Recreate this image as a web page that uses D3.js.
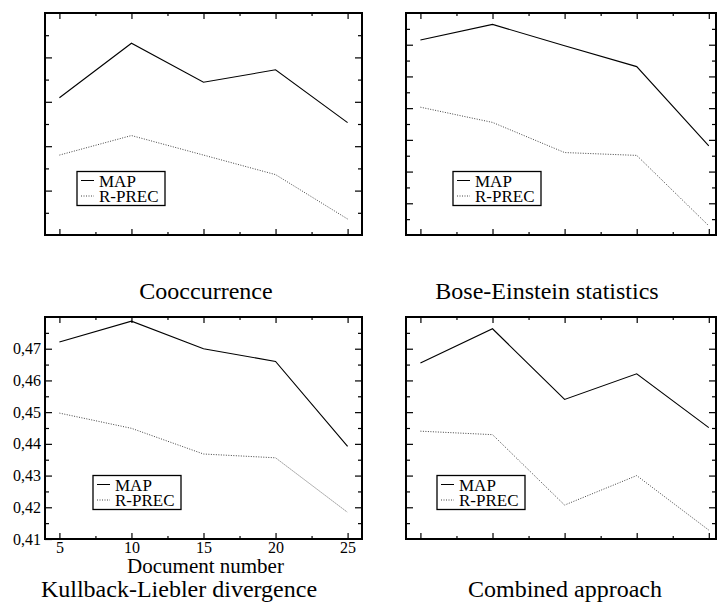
<!DOCTYPE html>
<html>
<head>
<meta charset="utf-8">
<script src="https://cdn.jsdelivr.net/npm/d3@7"></script>
<style>
  body { margin: 0; background: #fff; }
  svg { display: block; }
  text { font-family: "Liberation Serif", "Times New Roman", serif; fill: #000; }
</style>
</head>
<body>
<svg id="chart" width="717" height="607"></svg>
<script>
// document numbers on the x axis
const docNumbers = [5, 10, 15, 20, 25];
const seriesNames = ['MAP', 'R-PREC'];

// values, one pair of series per panel
const coocMap   = [0.4509, 0.4632, 0.4544, 0.4572, 0.4453];
const coocRprec = [0.4380, 0.4424, 0.4380, 0.4336, 0.4236];

const boseMap   = [0.4715, 0.4764, 0.4697, 0.4631, 0.4381];
const boseRprec = [0.4503, 0.4455, 0.4360, 0.4351, 0.4129];

const klMap     = [0.4721, 0.4787, 0.4700, 0.4660, 0.4392];
const klRprec   = [0.4497, 0.4449, 0.4368, 0.4356, 0.4184];

const combMap   = [0.4655, 0.4763, 0.4540, 0.4621, 0.4451];
const combRprec = [0.4440, 0.4429, 0.4207, 0.4300, 0.4128];

const titles = ['Cooccurrence', 'Bose-Einstein statistics', 'Kullback-Liebler divergence', 'Combined approach'];
const xLabel = 'Document number';

const panels = [
  { title: titles[0], map: coocMap, rprec: coocRprec, yDomain: [0.42, 0.47], left: 45, right: 362, top: 13, bottom: 235, xMax: 26, labels: false, legendX: 32, titleX: 206, titleY: 299 },
  { title: titles[1], map: boseMap, rprec: boseRprec, yDomain: [0.41, 0.48], left: 406, right: 716, top: 13, bottom: 235, xMax: 25.5, labels: false, legendX: 47, titleX: 547, titleY: 299 },
  { title: titles[2], map: klMap, rprec: klRprec, yDomain: [0.41, 0.48], left: 45, right: 362, top: 317, bottom: 539, xMax: 26, labels: true, legendX: 48, titleX: 179, titleY: 597 },
  { title: titles[3], map: combMap, rprec: combRprec, yDomain: [0.41, 0.48], left: 406, right: 716, top: 317, bottom: 539, xMax: 25.5, labels: false, legendX: 31, titleX: 565, titleY: 597 }
];

const locale = d3.formatLocale({ decimal: ',', thousands: '.', grouping: [3], currency: ['', ''] });
const fmt = locale.format('.2f');

const svg = d3.select('#chart');

panels.forEach((p) => {
  const x = d3.scaleLinear().domain([4, p.xMax]).range([p.left, p.right]);
  const y = d3.scaleLinear().domain(p.yDomain).range([p.bottom, p.top]);

  const majorY = d3.range(Math.round(p.yDomain[0] * 100) + 1, Math.round(p.yDomain[1] * 100)).map((d) => d / 100);
  const minorY = d3.range(Math.round(p.yDomain[0] * 200) + 1, Math.round(p.yDomain[1] * 200), 2).map((d) => d / 200);
  const minorX = [7.5, 12.5, 17.5, 22.5];

  const g = svg.append('g');

  // inward ticks on all four sides
  const addAxis = (axis, tr) => {
    const a = g.append('g').attr('transform', tr).call(axis);
    a.select('.domain').remove();
    a.selectAll('line').attr('stroke', '#000').attr('stroke-width', 1.2);
    return a;
  };

  const bottomAxis = addAxis(
    d3.axisBottom(x).tickValues(docNumbers).tickSize(-6).tickPadding(3)
      .tickFormat(p.labels ? d3.format('d') : ''),
    `translate(0,${p.bottom})`
  );
  addAxis(d3.axisBottom(x).tickValues(minorX).tickSize(-3).tickFormat(''), `translate(0,${p.bottom})`);
  addAxis(d3.axisTop(x).tickValues(docNumbers).tickSize(-6).tickFormat(''), `translate(0,${p.top})`);
  addAxis(d3.axisTop(x).tickValues(minorX).tickSize(-3).tickFormat(''), `translate(0,${p.top})`);

  const leftAxis = addAxis(
    d3.axisLeft(y).tickValues(p.labels ? [p.yDomain[0]].concat(majorY) : majorY).tickSize(-7).tickPadding(4)
      .tickFormat(p.labels ? fmt : ''),
    `translate(${p.left},0)`
  );
  addAxis(d3.axisLeft(y).tickValues(minorY).tickSize(-4).tickFormat(''), `translate(${p.left},0)`);
  addAxis(d3.axisRight(y).tickValues(majorY).tickSize(-7).tickFormat(''), `translate(${p.right},0)`);
  addAxis(d3.axisRight(y).tickValues(minorY).tickSize(-4).tickFormat(''), `translate(${p.right},0)`);

  if (p.labels) {
    bottomAxis.selectAll('text').attr('font-size', 16).attr('font-family', 'Liberation Serif').attr('fill', '#000');
    leftAxis.selectAll('text').attr('font-size', 16).attr('font-family', 'Liberation Serif').attr('fill', '#000');
    g.append('text')
      .attr('x', (p.left + p.right) / 2 + 2)
      .attr('y', 573)
      .attr('text-anchor', 'middle')
      .attr('font-size', 21)
      .text(xLabel);
  }

  // frame
  g.append('rect')
    .attr('x', p.left)
    .attr('y', p.top)
    .attr('width', p.right - p.left)
    .attr('height', p.bottom - p.top)
    .attr('fill', 'none')
    .attr('stroke', '#000')
    .attr('stroke-width', 2);

  const line = d3.line().x((d, i) => x(docNumbers[i])).y((d) => y(d));

  g.append('path')
    .datum(p.map)
    .attr('fill', 'none')
    .attr('stroke', '#000')
    .attr('stroke-width', 1.1)
    .attr('d', line);

  g.append('path')
    .datum(p.rprec)
    .attr('fill', 'none')
    .attr('stroke', '#444')
    .attr('stroke-width', 1)
    .attr('stroke-dasharray', '1,1.5')
    .attr('d', line);

  // legend
  const lg = g.append('g').attr('transform', `translate(${p.left + p.legendX},${p.top + 158.5})`);
  lg.append('rect')
    .attr('width', 88)
    .attr('height', 34)
    .attr('fill', '#fff')
    .attr('stroke', '#000')
    .attr('stroke-width', 1.3);
  seriesNames.forEach((name, i) => {
    lg.append('line')
      .attr('x1', 4).attr('x2', 17)
      .attr('y1', 9 + i * 15.5).attr('y2', 9 + i * 15.5)
      .attr('stroke', i === 0 ? '#000' : '#444')
      .attr('stroke-width', 1)
      .attr('stroke-dasharray', i === 0 ? null : '1,1.5');
    lg.append('text')
      .attr('x', 22)
      .attr('y', 15 + i * 15)
      .attr('font-size', 17)
      .text(name);
  });

  // caption below each panel
  svg.append('text')
    .attr('x', p.titleX)
    .attr('y', p.titleY)
    .attr('text-anchor', 'middle')
    .attr('font-size', 24)
    .text(p.title);
});
</script>
</body>
</html>
